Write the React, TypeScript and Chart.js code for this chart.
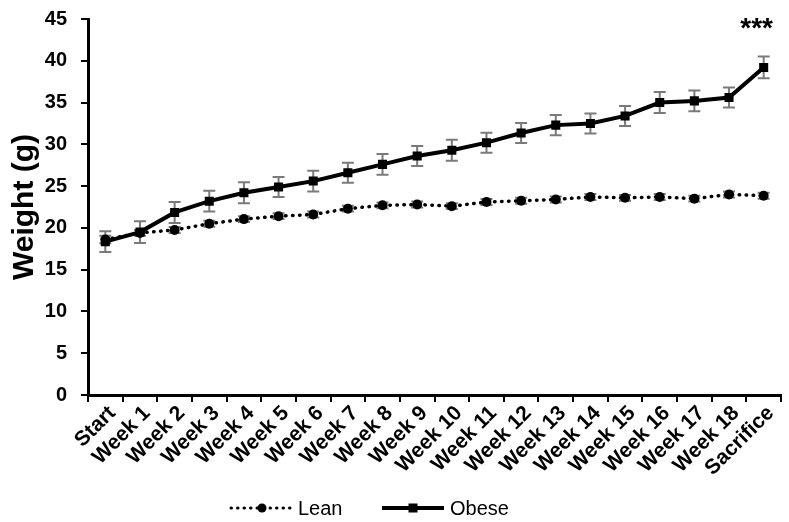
import { useEffect, useRef } from "react";
import { Chart, registerables } from "chart.js";

Chart.register(...registerables);

const categories = [
  "Start", "Week 1", "Week 2", "Week 3", "Week 4", "Week 5", "Week 6", "Week 7",
  "Week 8", "Week 9", "Week 10", "Week 11", "Week 12", "Week 13", "Week 14",
  "Week 15", "Week 16", "Week 17", "Week 18", "Sacrifice",
];
const leanWeight = [18.6, 19.4, 19.75, 20.5, 21.05, 21.4, 21.6, 22.3, 22.7, 22.8, 22.6, 23.1, 23.25, 23.4, 23.7, 23.6, 23.7, 23.5, 24.0, 23.85];
const leanSem = [0.45, 0.35, 0.35, 0.35, 0.35, 0.35, 0.35, 0.35, 0.35, 0.35, 0.35, 0.35, 0.35, 0.35, 0.35, 0.35, 0.35, 0.35, 0.35, 0.35];
const obeseWeight = [18.35, 19.5, 21.85, 23.2, 24.2, 24.9, 25.6, 26.6, 27.6, 28.6, 29.3, 30.2, 31.35, 32.3, 32.5, 33.4, 35.0, 35.2, 35.6, 39.2];
const obeseSem = [1.25, 1.3, 1.25, 1.25, 1.25, 1.2, 1.25, 1.2, 1.25, 1.2, 1.25, 1.2, 1.2, 1.2, 1.2, 1.2, 1.25, 1.25, 1.2, 1.3];
const yMin = 0;
const yMax = 45;
const yStep = 5;
const seriesNames = ["Lean", "Obese"];
const significanceLabel = "***";
const significanceIndex = 19;
const significanceValue = 42.8;

const FONT = "'Liberation Sans', Arial, Helvetica, sans-serif";

const errorBarPlugin = {
  id: "errorBars",
  beforeDatasetsDraw(chart: any) {
    const ctx = chart.ctx;
    const yScale = chart.scales.y;
    const sems = [leanSem, obeseSem];
    const vals = [leanWeight, obeseWeight];
    ctx.save();
    ctx.strokeStyle = "#7a7a7a";
    ctx.lineWidth = 2;
    for (let d = 0; d < 2; d++) {
      const meta = chart.getDatasetMeta(d);
      meta.data.forEach((pt: any, i: number) => {
        const x = pt.x;
        const yTop = yScale.getPixelForValue(vals[d][i] + sems[d][i]);
        const yBot = yScale.getPixelForValue(vals[d][i] - sems[d][i]);
        ctx.beginPath();
        ctx.moveTo(x, yTop);
        ctx.lineTo(x, yBot);
        ctx.moveTo(x - 6, yTop);
        ctx.lineTo(x + 6, yTop);
        ctx.moveTo(x - 6, yBot);
        ctx.lineTo(x + 6, yBot);
        ctx.stroke();
      });
    }
    ctx.restore();
  },
  afterDraw(chart: any) {
    const ctx = chart.ctx;
    const xScale = chart.scales.x;
    const yScale = chart.scales.y;
    ctx.save();
    ctx.fillStyle = "#000";
    ctx.font = `bold 28px ${FONT}`;
    ctx.textAlign = "center";
    ctx.textBaseline = "alphabetic";
    ctx.fillText(
      significanceLabel,
      xScale.getPixelForValue(significanceIndex) - 7,
      yScale.getPixelForValue(significanceValue)
    );
    const ly = 508;
    ctx.strokeStyle = "#000";
    ctx.lineWidth = 3;
    ctx.lineCap = "round";
    ctx.setLineDash([0.5, 6]);
    ctx.beginPath();
    ctx.moveTo(231, ly);
    ctx.lineTo(291, ly);
    ctx.stroke();
    ctx.setLineDash([]);
    ctx.beginPath();
    ctx.arc(262, ly, 4.5, 0, Math.PI * 2);
    ctx.fill();
    ctx.font = `20px ${FONT}`;
    ctx.textAlign = "left";
    ctx.textBaseline = "middle";
    ctx.fillText(seriesNames[0], 298, ly + 1);
    ctx.lineCap = "butt";
    ctx.lineWidth = 4;
    ctx.beginPath();
    ctx.moveTo(382, ly);
    ctx.lineTo(444, ly);
    ctx.stroke();
    ctx.fillRect(408.5, ly - 4.5, 9, 9);
    ctx.fillText(seriesNames[1], 450, ly + 1);
    ctx.restore();
  },
};

export default function App() {
  const canvasRef = useRef<HTMLCanvasElement | null>(null);

  useEffect(() => {
    document.body.style.margin = "0";
    const canvas = canvasRef.current;
    if (!canvas) return;
    const chart = new Chart(canvas, {
      type: "line",
      data: {
        labels: categories,
        datasets: [
          {
            label: seriesNames[0],
            data: leanWeight,
            borderColor: "#000",
            backgroundColor: "#000",
            borderWidth: 3.5,
            borderDash: [0.5, 6.5],
            borderCapStyle: "round",
            pointStyle: "circle",
            pointRadius: 5,
            pointBorderWidth: 0,
            pointBackgroundColor: "#000",
            tension: 0,
          },
          {
            label: seriesNames[1],
            data: obeseWeight,
            borderColor: "#000",
            backgroundColor: "#000",
            borderWidth: 4,
            pointStyle: "rect",
            pointRadius: 6.4,
            pointBorderWidth: 0,
            pointBackgroundColor: "#000",
            tension: 0,
          },
        ],
      },
      options: {
        animation: false,
        responsive: true,
        maintainAspectRatio: false,
        layout: { padding: { top: 19, right: 8, left: 0, bottom: 0 } },
        plugins: {
          legend: { display: false },
          tooltip: { enabled: false },
        },
        scales: {
          x: {
            type: "category",
            offset: true,
            afterFit(scale: any) {
              scale.height = 127;
              scale.paddingLeft = 0;
              scale.paddingRight = 0;
            },
            grid: {
              offset: true,
              drawOnChartArea: false,
              drawTicks: true,
              tickLength: 7,
              color: "#000",
              lineWidth: 2,
            },
            border: { color: "#000", width: 3 },
            ticks: {
              autoSkip: false,
              maxRotation: 45,
              minRotation: 45,
              padding: -1,
              labelOffset: 7,
              color: "#000",
              font: { family: FONT, size: 21, weight: "bold" },
            },
          },
          y: {
            min: yMin,
            max: yMax,
            afterFit(scale: any) {
              scale.width = 88;
              scale.paddingTop = 0;
              scale.paddingBottom = 0;
            },
            grid: {
              drawOnChartArea: false,
              drawTicks: true,
              tickLength: 7,
              color: "#000",
              lineWidth: 2,
            },
            border: { color: "#000", width: 3 },
            ticks: {
              stepSize: yStep,
              padding: 14,
              color: "#000",
              font: { family: FONT, size: 20, weight: "bold" },
            },
            title: {
              display: true,
              text: "Weight (g)",
              color: "#000",
              padding: { top: 7, bottom: 0 },
              font: { family: FONT, size: 30, weight: "bold" },
            },
          },
        },
      },
      plugins: [errorBarPlugin],
    } as any);
    return () => chart.destroy();
  }, []);

  return (
    <div style={{ position: "absolute", left: 0, top: 0, width: 789, height: 522, background: "#fff" }}>
      <canvas ref={canvasRef} />
    </div>
  );
}
